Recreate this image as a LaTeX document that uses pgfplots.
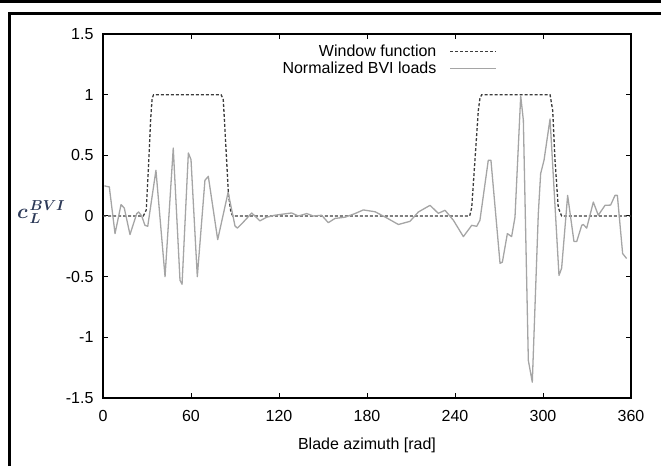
\documentclass[border=0pt]{standalone}
\usepackage{pgfplots}
\pgfplotsset{compat=1.18}
\usepackage{pgfplotstable}
\usepackage{bm}
\usepackage{fontspec}
\setmainfont{Liberation Sans}
\definecolor{ylab}{RGB}{45,58,88}
\definecolor{winc}{RGB}{60,60,60}
\definecolor{bvic}{RGB}{165,165,165}

\pgfplotstableread{
x y
0 0
27.5 0
29.5 0.05
31 0.40
32.5 0.80
33.5 0.97
34.5 1
80.5 1
82 0.96
83.8 0.57
85.5 0.18
87.2 0.03
88.5 0
250 0
251.4 0.07
253.6 0.46
255.9 0.87
257 0.97
258.2 1
304.8 1
306.6 0.87
308.2 0.46
310.4 0.07
312.7 0
360 0
}\windowtab

\pgfplotstableread{
x y
1 0.25
2 0.245
4.3 0.24
8.2 -0.145
12.3 0.094
14.5 0.066
18.4 -0.153
23 0.02
24.3 0.033
26.4 0
28.6 -0.077
30.5 -0.085
36.1 0.377
42.3 -0.50
47.9 0.56
52.5 -0.53
53.9 -0.563
58.2 0.52
60 0.465
64.3 -0.50
69.5 0.294
71.8 0.327
78.2 -0.195
85.3 0.195
90 -0.082
91.6 -0.10
95.7 -0.05
101.4 0.025
107 -0.04
111.6 -0.01
117 0.006
121.8 0.014
128.6 0.025
133.2 0
138.9 0.02
143.4 0
149.1 0.006
153.6 -0.055
158.2 -0.02
165 -0.01
171.8 0.02
177.5 0.05
185.5 0.035
192.3 -0.008
201.4 -0.07
209.3 -0.044
215 0.033
223 0.088
228.6 0.022
233.2 0.047
238.9 -0.035
245.7 -0.17
251.4 -0.077
254.8 -0.085
257 -0.035
262.7 0.46
264.5 0.46
270.7 -0.39
272.3 -0.38
275.7 -0.145
278.6 -0.17
280.9 -0.01
284.8 0.99
286.6 0.79
290 -1.19
292.7 -1.37
296.8 0.02
298.4 0.35
300.7 0.46
304.8 0.80
310.9 -0.49
312.7 -0.43
316.8 0.17
321.1 -0.21
323 -0.21
326.4 -0.077
327.5 -0.07
329.8 -0.10
334.3 0.115
337.7 0.006
342.3 0.088
346.1 0.09
349.1 0.17
350.7 0.17
354.3 -0.31
357 -0.35
}\bvitab

\begin{document}
\begin{tikzpicture}[x=1pt,y=1pt]
\useasboundingbox (0,0) rectangle (661,466);
\fill[black] (0,463) rectangle (661,466);
\draw[line width=3pt] (9,0) -- (9,452.5) -- (662,452.5);
\begin{axis}[
  at={(103pt,68pt)}, anchor=south west,
  scale only axis, width=528pt, height=364pt,
  xmin=0, xmax=360, ymin=-1.5, ymax=1.5,
  xtick={0,60,120,180,240,300,360},
  xticklabels={0,60,120,180,240,300,360},
  ytick={-1.5,-1,-0.5,0,0.5,1,1.5},
  yticklabels={-1.5,-1,-0.5,0,0.5,1,1.5},
  tick align=inside, major tick length=5pt,
  tick style={black, line width=1pt},
  axis line style={black, line width=1.5pt},
  ticklabel style={font=\fontsize{16}{19}\selectfont},
  xticklabel style={yshift=-9pt},
  yticklabel style={xshift=-6pt},
  xlabel={Blade azimuth [rad]},
  xlabel style={font=\fontsize{16}{19}\selectfont, at={(axis description cs:0.5,-0.131)}, anchor=center},
  ylabel={\color{ylab}$\bm{c}\mkern1.5mu{}^{\bm{BVI}}_{\bm{L}}$},
  ylabel style={font=\fontsize{21}{24}\selectfont, rotate=-90, at={(axis description cs:-0.117,0.51)}, anchor=center},
  legend plot pos=right,
  legend cell align=right,
  legend image code/.code={\draw[#1] plot coordinates {(0pt,0pt) (23pt,0pt) (46pt,0pt)};},
  legend style={draw=none, fill=none, font=\fontsize{16}{19}\selectfont,
    at={(axis description cs:0.746,0.976)}, anchor=north east,
    row sep=0pt, inner sep=0pt,
    /tikz/every odd column/.append style={column sep=11pt}},
]
\addplot[color=winc, line width=1.3pt, dash pattern=on 3pt off 2pt] table[x=x,y=y] {\windowtab};
\addlegendentry{Window function}
\addplot[color=bvic, line width=1.3pt, line join=round] table[x=x,y=y] {\bvitab};
\addlegendentry{Normalized BVI loads}
\end{axis}
\end{tikzpicture}
\end{document}
